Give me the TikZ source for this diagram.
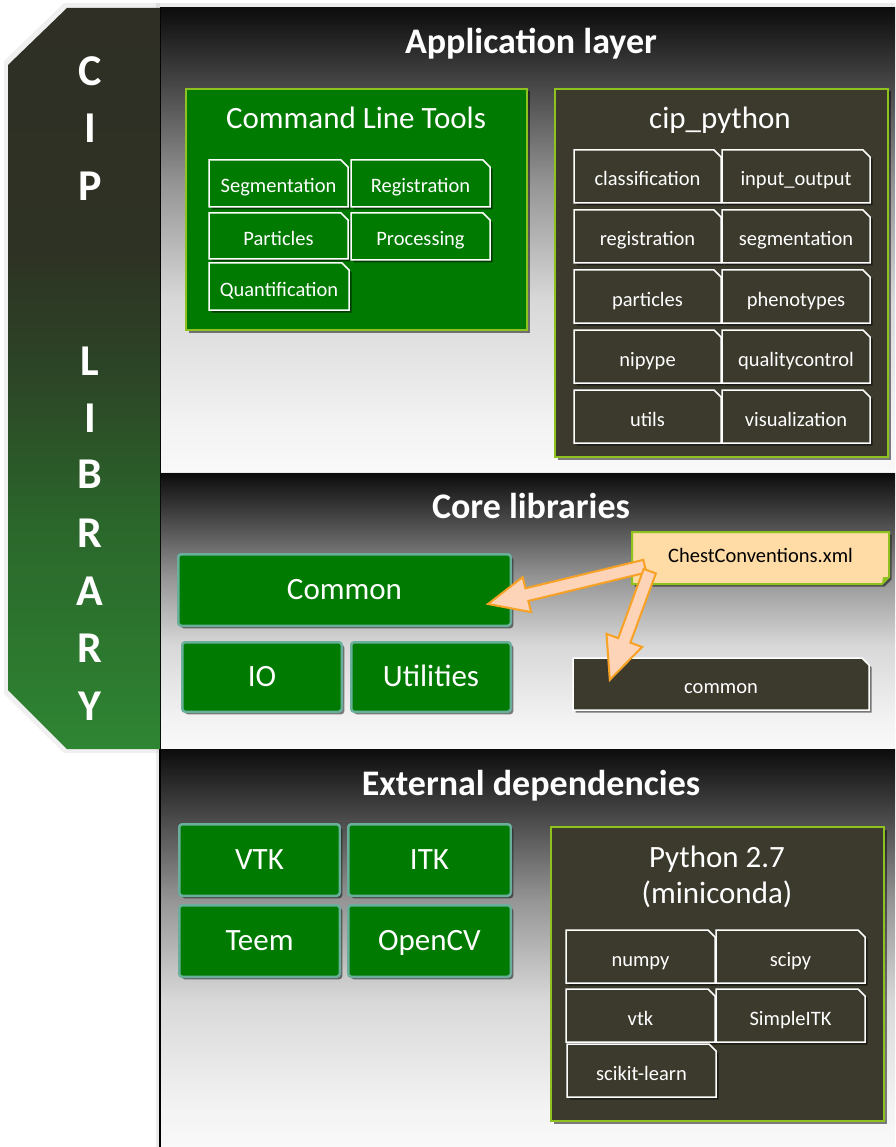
\documentclass[tikz,border=0pt]{standalone}
\usepackage{fontspec}
\setmainfont{Carlito}
\usetikzlibrary{calc,shadows}
\definecolor{cgreen}{HTML}{007A00}
\definecolor{cdark}{HTML}{3C3A2D}
\definecolor{lime}{HTML}{8DC21F}
\definecolor{tealb}{HTML}{6AAE9C}
\definecolor{ccfill}{HTML}{FFDBA6}
\definecolor{arrfill}{HTML}{FDD4B8}
\definecolor{arrline}{HTML}{F7A125}
\definecolor{pa}{HTML}{0C0C0C}
\definecolor{pb}{HTML}{3A3A3A}
\definecolor{pc}{HTML}{959595}
\definecolor{pd}{HTML}{D8D8D8}
\definecolor{pe}{HTML}{F3F3F3}
\definecolor{pf}{HTML}{F9F9F9}
\definecolor{ba}{HTML}{2F2F25}
\definecolor{bb}{HTML}{2E3224}
\definecolor{bc}{HTML}{2C4626}
\definecolor{bd}{HTML}{2B672B}
\definecolor{be}{HTML}{2E8532}
\pgfdeclareverticalshading{panelshade}{100bp}{color(0bp)=(pf); color(25bp)=(pf); color(30bp)=(pe); color(43.5bp)=(pd); color(56bp)=(pc); color(68.5bp)=(pb); color(75bp)=(pa); color(100bp)=(pa)}
\pgfdeclareverticalshading{bannershade}{100bp}{color(0bp)=(be); color(25bp)=(be); color(40bp)=(bd); color(50bp)=(bc); color(58.5bp)=(bb); color(75bp)=(ba); color(100bp)=(ba)}

% #1 fill, #2 name, #3 x1, #4 y1, #5 x2, #6 y2, #7 text
\newcommand\snipbox[7]{%
  \path[snipst, fill=#1] (#3,#4) -- ({#5-7},#4) -- (#5,{#4+7}) -- (#5,#6) -- (#3,#6) -- cycle;
  \node[smalltxt, minimum width={#5-#3}, minimum height={#6-#4}] (#2) at ({(#3+#5)/2},{(#4+#6)/2}) {#7};}
% #1 name, #2 text, #3 x1, #4 y1, #5 x2, #6 y2
\newcommand\greenbox[6]{%
  \node[gboxst, minimum width={#5-#3-2.5}, minimum height={#6-#4-2.5}] (#1) at ({(#3+#5)/2},{(#4+#6)/2}) {#2};}
% #1 start, #2 tip, #3 head length, #4 head half width, #5 shaft half width
\newcommand\blockarrow[5]{%
  \coordinate (hb) at ($(#2)!#3!(#1)$);
  \path[arrst] ($(#1)!#5!90:(#2)$) -- ($(hb)!#5!-90:(#1)$) -- ($(hb)!#4!-90:(#1)$) -- (#2)
     -- ($(hb)!#4!90:(#1)$) -- ($(hb)!#5!90:(#1)$) -- ($(#1)!#5!-90:(#2)$) -- cycle;}

\begin{document}
\begin{tikzpicture}[x=1pt,y=-1pt,
  bigtxt/.style={font=\fontsize{31}{36}\selectfont, text=white},
  smalltxt/.style={font=\fontsize{20.5}{24}\selectfont, text=white, inner sep=0pt, text height=22pt, text depth=3pt},
  titletxt/.style={font=\fontsize{36}{42}\selectfont\bfseries, text=white, anchor=base},
  lettertxt/.style={font=\fontsize{44}{50}\selectfont\bfseries, text=white, anchor=base},
  shadowst/.style={drop shadow={shadow xshift=2.5pt, shadow yshift=-2.5pt, opacity=0.5, fill=black}},
  snipst/.style={draw=white, line width=1.5pt, line join=miter, shadowst},
  gboxst/.style={draw=tealb, line width=2.5pt, fill=cgreen, rounded corners=3pt, bigtxt, inner sep=0pt, text height=21pt, text depth=3pt, shadowst},
  groupst/.style={draw=lime, line width=2pt, shadowst},
  arrst/.style={fill=arrfill, draw=arrline, line width=2pt, line join=miter},
]
\useasboundingbox (0,0) rectangle (895,1147);
\fill[white] (0,0) rectangle (895,1147);
\fill[black, opacity=0.08] (156,3) rectangle (895,1147);
\fill[black, opacity=0.06] (4,61) -- (64,3) -- (160,3) -- (160,753) -- (64,753) -- (4,694) -- cycle;

% panels
\path[shading=panelshade] (160,8) rectangle (895,471);
\path[shading=panelshade] (160,473) rectangle (895,748);
\path[shading=panelshade] (160,749) rectangle (895,1147);
\draw[line width=2pt, black] (160,8) -- (160,1147);

% banner
\path[shading=bannershade] (8,65) -- (67,8) -- (160,8) -- (160,749) -- (67,749) -- (8,690) -- cycle;
\foreach \lt/\yy/\nm in {C/86/c,I/143/i,P/201/p,L/375/l,I/432/i2,B/488/b,R/547/r,A/605/a,R/662/r2,Y/720/y}
  \node[lettertxt] (ban-\nm) at (90,\yy) {\lt};

% titles
\node[titletxt] (tapp) at (531,54) {Application layer};
\node[titletxt] (tcore) at (531,518) {Core libraries};
\node[titletxt] (text) at (531,795) {External dependencies};

% Command line tools
\path[groupst, fill=cgreen] (186,89) rectangle (527,330);
\node[bigtxt, anchor=base] (clt) at (356,129) {Command Line Tools};
\snipbox{cgreen}{seg}{209}{160}{348}{207}{Segmentation}
\snipbox{cgreen}{reg}{351}{160}{490}{207}{Registration}
\snipbox{cgreen}{par}{209}{213}{348}{259}{Particles}
\snipbox{cgreen}{proc}{351}{213}{490}{260}{Processing}
\snipbox{cgreen}{quant}{209}{263}{349}{310}{Quantification}

% cip_python
\path[groupst, fill=cdark] (555,89) rectangle (888,457);
\node[bigtxt, anchor=base] (cip) at (720,129) {cip\_python};
\snipbox{cdark}{p11}{574}{150}{721}{203}{classification}
\snipbox{cdark}{p12}{722}{150}{870}{203}{input\_output}
\snipbox{cdark}{p21}{574}{210}{721}{263}{registration}
\snipbox{cdark}{p22}{722}{210}{870}{263}{segmentation}
\snipbox{cdark}{p31}{574}{270}{721}{323}{particles}
\snipbox{cdark}{p32}{722}{270}{870}{323}{phenotypes}
\snipbox{cdark}{p41}{574}{330}{721}{383}{nipype}
\snipbox{cdark}{p42}{722}{330}{870}{383}{qualitycontrol}
\snipbox{cdark}{p51}{574}{390}{721}{443}{utils}
\snipbox{cdark}{p52}{722}{390}{870}{443}{visualization}

% Core libraries
\greenbox{common}{Common}{177}{553}{512}{627}
\greenbox{io}{IO}{181}{641}{343}{713}
\greenbox{util}{Utilities}{350}{641}{512}{713}
\snipbox{cdark}{cm}{573}{658}{869}{710}{common}
\path[groupst, fill=ccfill] (632,532) -- (889,532) -- (889,577) -- (882,584) -- (632,584) -- cycle;
\fill[lime] (889,577) -- (883,577) -- (882,584) -- cycle;
\node[font=\fontsize{20.5}{24}\selectfont, text=black, inner sep=0pt, text height=13pt, text depth=5pt,
      minimum width=257, minimum height=52] (cc) at (760.5,558) {ChestConventions.xml};
\coordinate (s1) at ([xshift=13pt, yshift=18pt]cc.south west);
\coordinate (s2) at ([xshift=18pt, yshift=13pt]cc.south west);
\coordinate (t1) at ([xshift=-24pt, yshift=-14pt]common.east);
\coordinate (t2) at ([xshift=37pt, yshift=-22pt]cm.north west);
\blockarrow{s1}{t1}{40pt}{18pt}{6.5pt}
\blockarrow{s2}{t2}{42pt}{19pt}{6.5pt}

% External dependencies
\greenbox{vtk}{VTK}{178}{823}{341}{897}
\greenbox{itk}{ITK}{347}{823}{512}{897}
\greenbox{teem}{Teem}{178}{904}{341}{978}
\greenbox{ocv}{OpenCV}{347}{904}{512}{978}
\path[groupst, fill=cdark] (551,827) rectangle (884,1121);
\node[bigtxt, anchor=base, inner sep=0pt] (py) at (717,867)
  {\begin{tabular}[t]{@{}c@{}}Python 2.7\\(miniconda)\end{tabular}};
\snipbox{cdark}{numpy}{566}{930}{715}{983}{numpy}
\snipbox{cdark}{scipy}{716}{930}{865}{983}{scipy}
\snipbox{cdark}{pvtk}{566}{989}{715}{1042}{vtk}
\snipbox{cdark}{sitk}{716}{989}{865}{1042}{SimpleITK}
\snipbox{cdark}{skl}{567}{1044}{716}{1097}{scikit-learn}
\end{tikzpicture}
\end{document}
